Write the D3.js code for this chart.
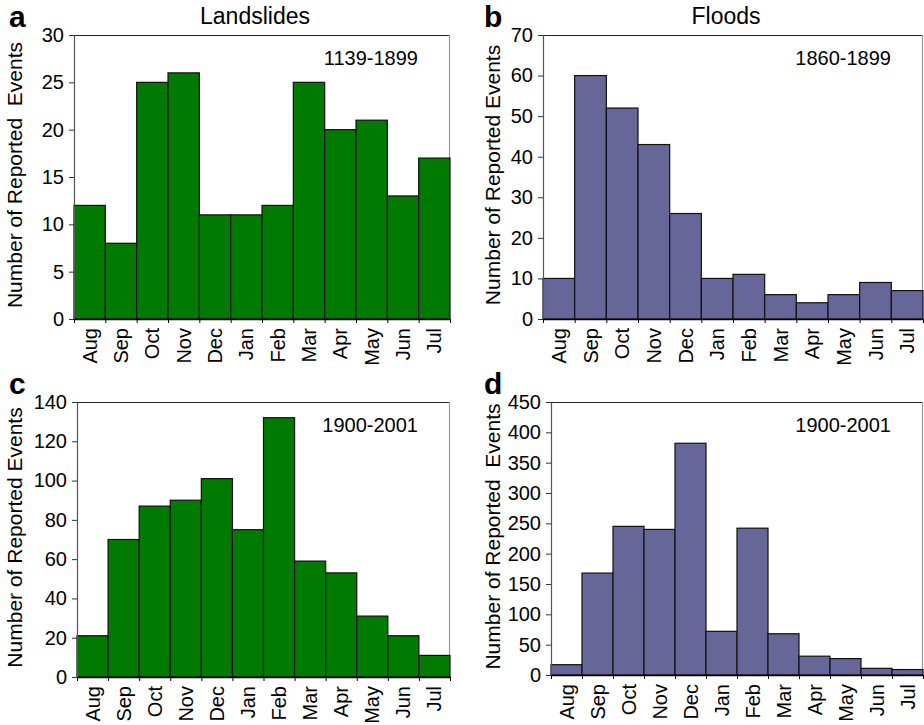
<!DOCTYPE html>
<html>
<head>
<meta charset="utf-8">
<script src="https://cdn.jsdelivr.net/npm/d3@7"></script>
<style>
  body { margin: 0; background: #fff; }
  svg text { font-family: "Liberation Sans", Arial, sans-serif; fill: #000; }
</style>
</head>
<body>
<div id="chart"></div>
<script>
// months run from the start of the hydrological year
var months = ["Aug", "Sep", "Oct", "Nov", "Dec", "Jan", "Feb", "Mar", "Apr", "May", "Jun", "Jul"];

var landslidesEarly = [12, 8, 25, 26, 11, 11, 12, 25, 20, 21, 13, 17];
var floodsEarly = [10, 60, 52, 43, 26, 10, 11, 6, 4, 6, 9, 7];
var landslidesLate = [21, 70, 87, 90, 101, 75, 132, 59, 53, 31, 21, 11];
var floodsLate = [17, 168, 245, 240, 382, 72, 242, 68, 31, 27, 11, 9];

var yTicksA = [0, 5, 10, 15, 20, 25, 30];
var yTicksB = [0, 10, 20, 30, 40, 50, 60, 70];
var yTicksC = [0, 20, 40, 60, 80, 100, 120, 140];
var yTicksD = [0, 50, 100, 150, 200, 250, 300, 350, 400, 450];

var width = 924;
var height = 725;
var green = "#007a00";
var purple = "#666699";

var panels = [
  { letter: "a", title: "Landslides", period: "1139-1899", values: landslidesEarly, ticks: yTicksA, color: green,
    left: 74, right: 450, top: 35, bottom: 319, ylabel: "Number of Reported  Events" },
  { letter: "b", title: "Floods", period: "1860-1899", values: floodsEarly, ticks: yTicksB, color: purple,
    left: 543, right: 923, top: 35, bottom: 319, ylabel: "Number of Reported Events" },
  { letter: "c", title: "", period: "1900-2001", values: landslidesLate, ticks: yTicksC, color: green,
    left: 77, right: 450, top: 402, bottom: 677, ylabel: "Number of Reported Events" },
  { letter: "d", title: "", period: "1900-2001", values: floodsLate, ticks: yTicksD, color: purple,
    left: 551, right: 923, top: 402, bottom: 675, ylabel: "Number of Reported  Events" }
];

var svg = d3.select("#chart").append("svg")
  .attr("width", width)
  .attr("height", height);

function drawPanel(p) {
  var g = svg.append("g");

  var x = d3.scaleBand().domain(months).range([p.left, p.right]).padding(0);
  var xEdges = d3.scaleLinear().domain([0, months.length]).range([p.left, p.right]);
  var y = d3.scaleLinear().domain([0, d3.max(p.ticks)]).range([p.bottom, p.top]);

  // frame: top + right are lighter than the axes
  g.append("line")
    .attr("x1", p.left).attr("x2", p.right)
    .attr("y1", p.top + 0.5).attr("y2", p.top + 0.5)
    .attr("stroke", "#222").attr("stroke-width", 1.2);
  g.append("line")
    .attr("x1", p.right - 0.5).attr("x2", p.right - 0.5)
    .attr("y1", p.top).attr("y2", p.bottom)
    .attr("stroke", "#999").attr("stroke-width", 1.2);

  // bars
  g.selectAll("rect.bar")
    .data(p.values)
    .enter()
    .append("rect")
    .attr("class", "bar")
    .attr("x", function (d, i) { return x(months[i]); })
    .attr("y", function (d) { return y(d); })
    .attr("width", x.bandwidth())
    .attr("height", function (d) { return p.bottom - y(d); })
    .attr("fill", p.color)
    .attr("stroke", "#111")
    .attr("stroke-width", 1.2);

  // y axis
  var yAxis = g.append("g")
    .attr("transform", "translate(" + p.left + ",0)")
    .call(d3.axisLeft(y).tickValues(p.ticks).tickSize(5).tickSizeOuter(0).tickPadding(5));
  yAxis.select(".domain").attr("stroke", "#555").attr("stroke-width", 1.2);
  yAxis.selectAll(".tick line").attr("stroke", "#333");
  yAxis.selectAll(".tick text")
    .style("font-size", "20px")
    .attr("font-family", "Liberation Sans, Arial, sans-serif");

  // x axis: ticks on bar edges, labels centred under bars
  var xAxis = g.append("g")
    .attr("transform", "translate(0," + p.bottom + ")")
    .call(d3.axisBottom(xEdges).ticks(months.length).tickSize(4).tickSizeOuter(0).tickFormat(""));
  xAxis.select(".domain").attr("stroke", "#000").attr("stroke-width", 1.4);
  xAxis.selectAll(".tick line").attr("stroke", "#000");

  g.selectAll("text.month")
    .data(months)
    .enter()
    .append("text")
    .attr("class", "month")
    .attr("transform", function (d) {
      return "translate(" + (x(d) + x.bandwidth() / 2) + "," + (p.bottom + 9) + ") rotate(-90)";
    })
    .attr("dy", "0.35em")
    .attr("text-anchor", "end")
    .style("font-size", "20px")
    .text(function (d) { return d; });

  // y label
  g.append("text")
    .attr("transform", "translate(" + (p.left < 300 ? 22 : 500) + "," + ((p.top + p.bottom) / 2 - 2) + ") rotate(-90)")
    .attr("text-anchor", "middle")
    .style("font-size", "21px")
    .style("white-space", "pre")
    .text(p.ylabel);

  // panel letter
  g.append("text")
    .attr("x", p.left < 300 ? 9 : 484)
    .attr("y", p.top < 200 ? 27 : 394)
    .style("font-size", "30px")
    .style("font-weight", "bold")
    .text(p.letter);

  if (p.title) {
    g.append("text")
      .attr("x", (p.left + p.right) / 2 - 7)
      .attr("y", 24)
      .attr("text-anchor", "middle")
      .style("font-size", "23px")
      .text(p.title);
  }

  g.append("text")
    .attr("x", p.right - 32)
    .attr("y", p.top + 30)
    .attr("text-anchor", "end")
    .style("font-size", "20px")
    .text(p.period);
}

panels.forEach(drawPanel);
</script>
</body>
</html>
